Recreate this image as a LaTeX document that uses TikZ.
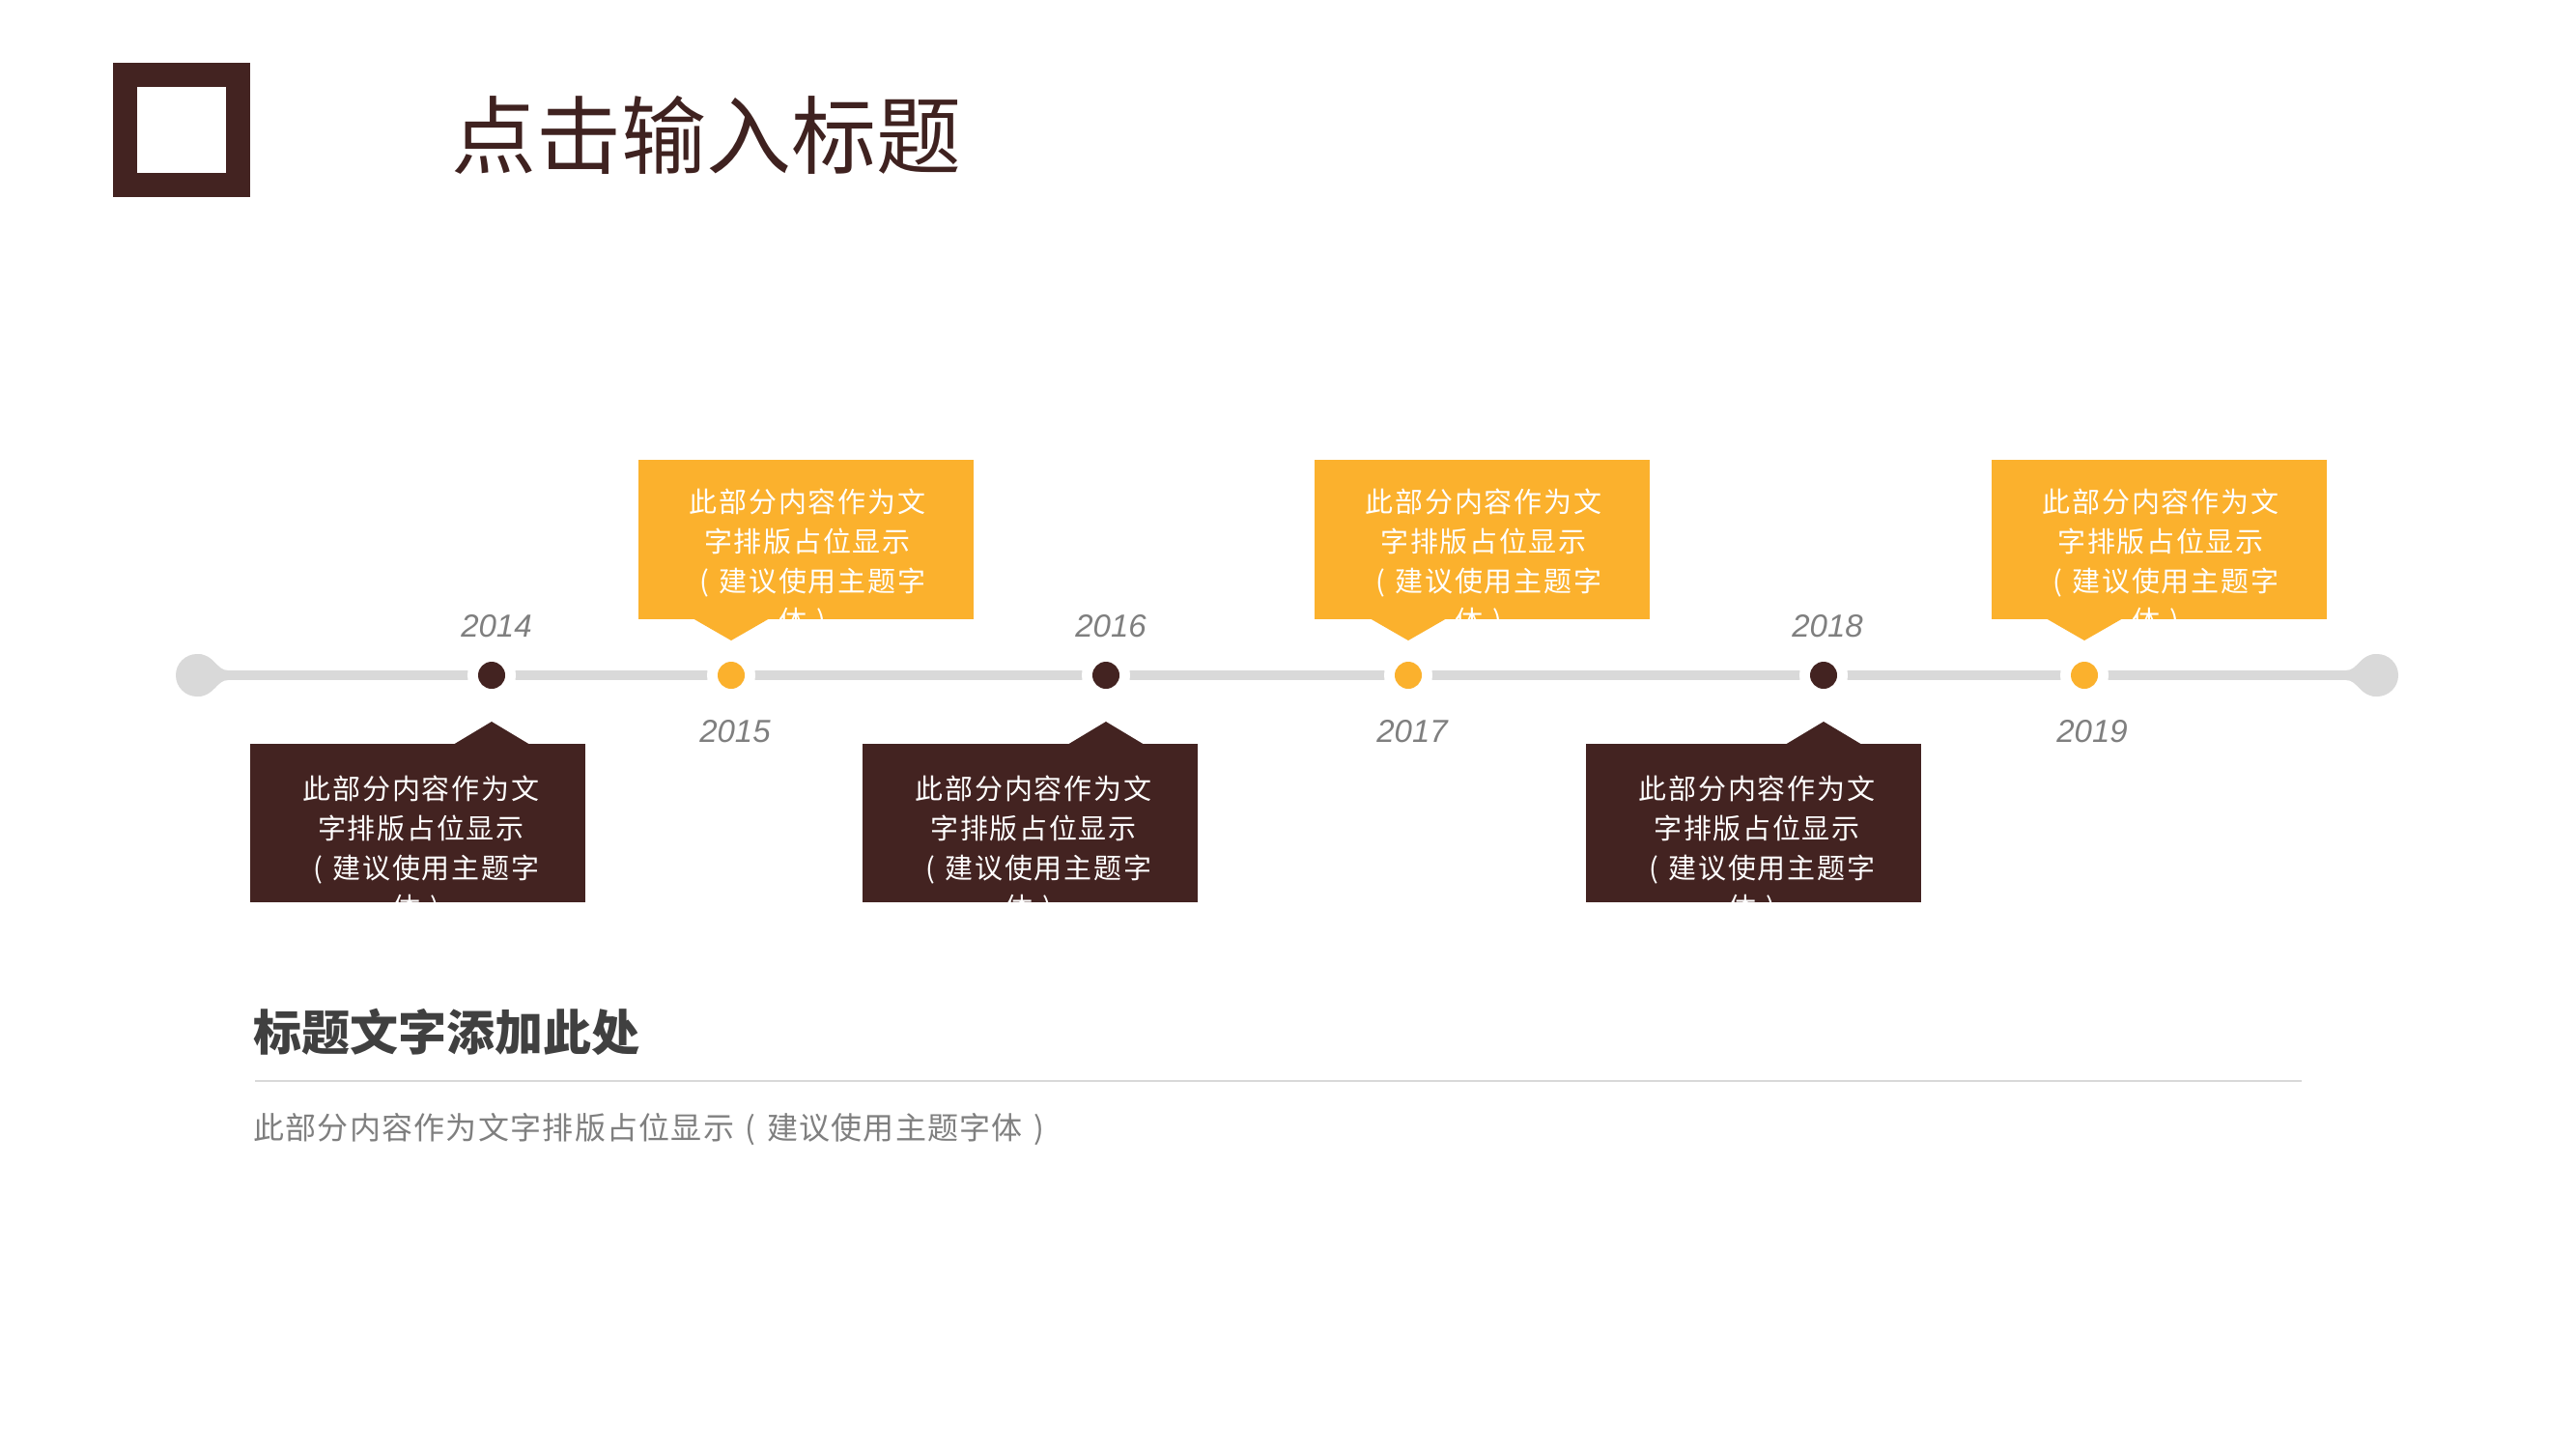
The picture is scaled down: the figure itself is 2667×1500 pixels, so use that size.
\documentclass[tikz,border=0pt]{standalone}
\usepackage{fontspec}
\setmainfont{Noto Sans CJK SC}
\newfontfamily\cjk{Noto Sans CJK SC}
\newfontfamily\cjkbox[LetterSpace=6.0]{Noto Sans CJK SC}
\newfontfamily\cjkbody[LetterSpace=4.0]{Noto Sans CJK SC}
\newfontfamily\yearfont{Liberation Sans}
\definecolor{brownc}{RGB}{67,35,33}
\definecolor{orangec}{RGB}{251,177,45}
\definecolor{linegray}{RGB}{217,217,217}
\definecolor{yeargray}{RGB}{127,127,127}
\definecolor{headgray}{RGB}{64,64,64}
\definecolor{titlec}{RGB}{63,34,32}
\tikzset{
  yearlabel/.style={font=\yearfont\itshape\fontsize{33pt}{38pt}\selectfont, text=yeargray, inner sep=0pt},
  boxtext/.style={font=\cjkbox\fontsize{29pt}{41pt}\selectfont, text=white, align=center, inner sep=0pt},
  dotbrown/.style={circle, fill=brownc, minimum size=28pt, inner sep=0pt},
  dotorange/.style={circle, fill=orangec, minimum size=28pt, inner sep=0pt},
  ring/.style={fill=white},
}
\newcommand{\lpar}{\makebox[1.06em][c]{(}}
\newcommand{\rpar}{\makebox[1.06em][c]{)}}
\newcommand{\boxlines}{此部分内容作为文\\字排版占位显示\\\lpar 建议使用主题字\\体\rpar}
\begin{document}
\begin{tikzpicture}[x=1pt,y=-1pt]
\useasboundingbox[fill=white] (0,0) rectangle (2667,1500);
% logo
\node[draw=brownc, line width=25pt, minimum width=117pt, minimum height=114pt, inner sep=0pt] (logo) at (188,134.5) {};
% title
\node[anchor=west, inner sep=0pt, text=titlec, font=\cjk\fontsize{88pt}{96pt}\selectfont] (title) at (467,140) {点击输入标题};

% timeline
\coordinate (tlL) at (204,699);
\coordinate (tlR) at (2461,699);
\draw[linegray, line width=10pt] (tlL) -- (tlR);
\fill[linegray] (tlL) circle (22);
\fill[linegray] (tlR) circle (22);
\fill[linegray] (204,677) .. controls (222,677) and (224,694) .. (236,694) -- (236,704)
  .. controls (224,704) and (222,721) .. (204,721) -- cycle;
\fill[linegray] (2461,677) .. controls (2443,677) and (2441,694) .. (2429,694) -- (2429,704)
  .. controls (2441,704) and (2443,721) .. (2461,721) -- cycle;

% orange boxes (top)
\foreach \bx/\tip in {834/757, 1534/1458, 2235/2158}{
  \fill[orangec] (\bx-173.5,476) rectangle (\bx+173.5,641);
  \fill[orangec] (\tip-40,640) -- (\tip,663) -- (\tip+40,640) -- cycle;
}
% brown boxes (bottom)
\foreach \bx/\tip in {432/509, 1066/1145, 1815/1888}{
  \fill[brownc] (\bx-173.5,770) rectangle (\bx+173.5,934);
  \fill[brownc] (\tip-40,771) -- (\tip,747) -- (\tip+40,771) -- cycle;
}

% rings and dots
\foreach \x in {509,757,1145,1458,1888,2158}{
  \fill[ring] (\x,699) circle (25);
}
\node[dotbrown] (d2014) at (509,699) {};
\node[dotorange] (d2015) at (757,699) {};
\node[dotbrown] (d2016) at (1145,699) {};
\node[dotorange] (d2017) at (1458,699) {};
\node[dotbrown] (d2018) at (1888,699) {};
\node[dotorange] (d2019) at (2158,699) {};

% years
\node[yearlabel] (y2014) at (514,648) {2014};
\node[yearlabel] (y2015) at (761,757) {2015};
\node[yearlabel] (y2016) at (1150,648) {2016};
\node[yearlabel] (y2017) at (1462,757) {2017};
\node[yearlabel] (y2018) at (1892,648) {2018};
\node[yearlabel] (y2019) at (2166,757) {2019};

% box texts
\node[boxtext] (t2015) at (836,583) {\boxlines};
\node[boxtext] (t2017) at (1536,583) {\boxlines};
\node[boxtext] (t2019) at (2237,583) {\boxlines};
\node[boxtext] (t2014) at (436,880) {\boxlines};
\node[boxtext] (t2016) at (1070,880) {\boxlines};
\node[boxtext] (t2018) at (1819,880) {\boxlines};

% bottom section
\node[anchor=west, inner sep=0pt, text=headgray, font=\cjk\bfseries\fontsize{50pt}{58pt}\selectfont] (head) at (262,1068) {标题文字添加此处};
\coordinate (sepL) at (264,1119);
\coordinate (sepR) at (2383,1119);
\draw[linegray, line width=2pt] (sepL) -- (sepR);
\node[anchor=west, inner sep=0pt, text=yeargray, font=\cjkbody\fontsize{32pt}{40pt}\selectfont] (body) at (262,1169) {此部分内容作为文字排版占位显示\lpar 建议使用主题字体\rpar};
\end{tikzpicture}
\end{document}
